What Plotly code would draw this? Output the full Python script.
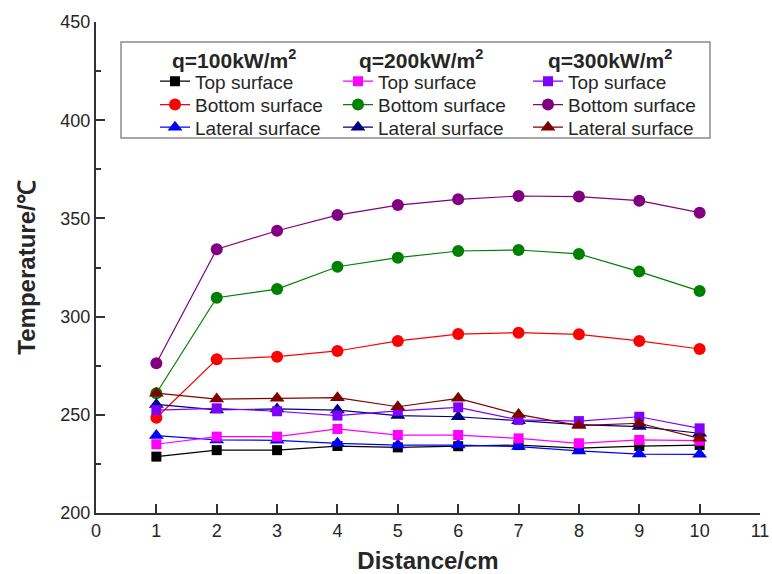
import plotly.graph_objects as go

# ---------------- data ----------------
distance = [1, 2, 3, 4, 5, 6, 7, 8, 9, 10]

top_q100 = [228.7, 232.0, 232.0, 234.1, 233.4, 234.0, 234.6, 233.0, 234.1, 234.6]
bottom_q100 = [248.5, 278.3, 279.6, 282.5, 287.6, 291.1, 291.8, 291.0, 287.6, 283.5]
lateral_q100 = [239.4, 237.2, 237.0, 235.5, 234.6, 234.6, 233.8, 231.6, 230.0, 229.9]

top_q200 = [235.0, 238.9, 238.9, 242.8, 239.7, 239.7, 238.0, 235.5, 237.2, 236.8]
bottom_q200 = [261.0, 309.6, 314.0, 325.4, 330.0, 333.4, 333.9, 331.9, 322.9, 313.0]
lateral_q200 = [255.3, 252.5, 253.0, 252.4, 249.6, 249.0, 247.0, 245.0, 244.0, 240.6]

top_q300 = [252.4, 253.3, 251.8, 249.6, 252.0, 253.8, 247.4, 246.8, 249.0, 243.1]
bottom_q300 = [276.2, 334.3, 343.7, 351.7, 356.8, 359.7, 361.4, 361.1, 359.0, 352.9]
lateral_q300 = [261.0, 258.0, 258.4, 258.7, 254.1, 258.4, 250.2, 244.5, 245.7, 238.0]

heat_flux_labels = ["q=100kW/m<sup>2</sup>", "q=200kW/m<sup>2</sup>", "q=300kW/m<sup>2</sup>"]
surface_labels = ["Top surface", "Bottom surface", "Lateral surface"]

y_ticks = [200, 250, 300, 350, 400, 450]
x_ticks = list(range(0, 12))

# ---------------- styles ----------------
FONT = "Liberation Sans, Arial, Helvetica, sans-serif"
TXT = "#262626"

series = [
    (top_q100, 0, 0, "#000000", "square", 10),
    (bottom_q100, 0, 1, "#FF0000", "circle", 12),
    (lateral_q100, 0, 2, "#0000FF", "triangle-up", 13),
    (top_q200, 1, 0, "#FF00FF", "square", 10),
    (bottom_q200, 1, 1, "#008000", "circle", 12),
    (lateral_q200, 1, 2, "#000080", "triangle-up", 13),
    (top_q300, 2, 0, "#8000FF", "square", 10),
    (bottom_q300, 2, 1, "#800080", "circle", 12),
    (lateral_q300, 2, 2, "#800000", "triangle-up", 13),
]

legend_names = ["legend", "legend2", "legend3"]
col_widths = [138, 145, 140]

fig = go.Figure()
for values, col, row, color, symbol, size in series:
    fig.add_trace(go.Scatter(
        x=distance, y=values, mode="lines+markers",
        name=surface_labels[row],
        legend=legend_names[row],
        legendwidth=col_widths[col],
        line=dict(color=color, width=1.2),
        marker=dict(color=color, symbol=symbol, size=size, line=dict(width=0)),
    ))

# plot area in px: x 96..760, y 22..513
L, R, T, B = 96, 12, 22, 61
W, H = 772, 574
pw, ph = W - L - R, H - T - B


def px_x(x):
    return (x - L) / pw


def px_y(y):
    return (H - B - y) / ph


legend_common = dict(
    orientation="h", xanchor="left", yanchor="middle",
    bgcolor="rgba(0,0,0,0)", borderwidth=0,
    font=dict(family=FONT, size=19, color=TXT),
    itemwidth=30, tracegroupgap=0,
)
row_y = [81.3, 104.7, 127.3]
legend_x = px_x(155)

layout_legends = {}
for i, name in enumerate(legend_names):
    layout_legends[name] = dict(legend_common, x=legend_x, y=px_y(row_y[i]))

header_x = [234, 421, 610]
annotations = [
    dict(text="<b>%s</b>" % lab, x=px_x(hx), y=px_y(58.7), xref="paper", yref="paper",
         xanchor="center", yanchor="middle", showarrow=False,
         font=dict(family=FONT, size=21, color=TXT))
    for lab, hx in zip(heat_flux_labels, header_x)
]

fig.update_layout(
    width=W, height=H,
    margin=dict(l=L, r=R, t=T, b=B, autoexpand=False),
    paper_bgcolor="white", plot_bgcolor="white",
    showlegend=True,
    annotations=annotations,
    shapes=[dict(type="rect", xref="paper", yref="paper",
                 x0=px_x(121), x1=px_x(710), y0=px_y(138), y1=px_y(42),
                 line=dict(color="#8c8c8c", width=1.5), fillcolor="rgba(0,0,0,0)")],
    **layout_legends,
)

fig.update_xaxes(
    range=[0, 11], tickvals=x_ticks, ticktext=[str(v) for v in x_ticks],
    showgrid=False, zeroline=False,
    showline=True, linecolor="#333333", linewidth=2,
    ticks="inside", ticklen=9, tickwidth=2, tickcolor="#333333",
    tickfont=dict(family=FONT, size=18, color=TXT),
    title=dict(text="<b>Distance/cm</b>", font=dict(family=FONT, size=24, color=TXT), standoff=14),
    automargin=False,
)
fig.update_yaxes(
    range=[200, 450], tickvals=y_ticks, ticktext=[str(v) for v in y_ticks],
    showgrid=False, zeroline=False,
    showline=True, linecolor="#333333", linewidth=2,
    ticks="inside", ticklen=9, tickwidth=2, tickcolor="#333333",
    minor=dict(dtick=25, tick0=200, ticks="inside", ticklen=5, tickwidth=1.5, tickcolor="#333333", showgrid=False),
    tickfont=dict(family=FONT, size=18, color=TXT),
    title=dict(text="<b>Temperature/℃</b>", font=dict(family=FONT, size=24, color=TXT), standoff=18),
    automargin=False,
)

fig.write_html("out.html")
